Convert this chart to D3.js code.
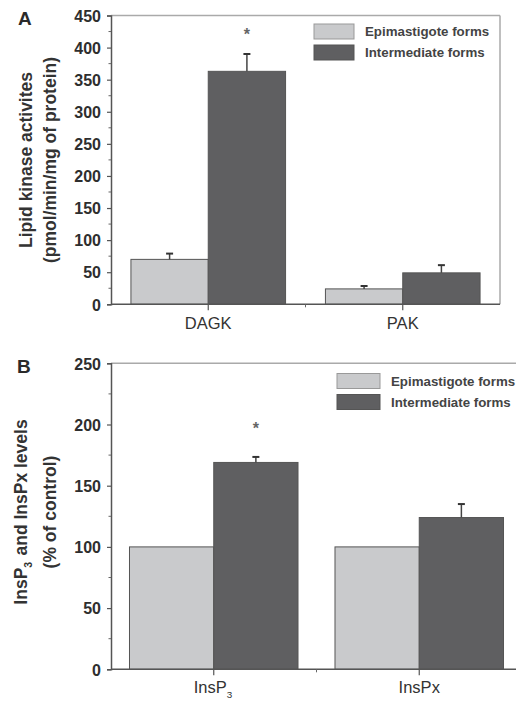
<!DOCTYPE html>
<html lang="en">
<head>
<meta charset="utf-8">
<title>Lipid kinase activities and InsP levels</title>
<script src="https://d3js.org/d3.v7.min.js"></script>
<style>
  * { margin:0; padding:0; box-sizing:border-box; }
  body { background:#fff; font-family:'Liberation Sans', Arial, sans-serif; }
  svg { display:block; }
  .tick-label { font-size:16px; font-weight:bold; fill:#2e2e2e; }
  .cat-label { font-size:16.5px; fill:#333; }
  .axis-title { font-size:17.5px; font-weight:bold; fill:#333; }
  .legend-text { font-size:13.3px; font-weight:bold; fill:#444; }
  .panel-label { font-size:19px; font-weight:bold; fill:#2a2a2a; }
</style>
</head>
<body>
<svg id="chart" width="516" height="703"></svg>
<script>
// ─── Data ───
const seriesNames = ['Epimastigote forms', 'Intermediate forms'];
const seriesColors = ['#c9cacc', '#5f5f61'];

// Panel A: lipid kinase activities
const catsA = ['DAGK', 'PAK'];
const epiA = [70, 24];
const epiErrA = [9, 4.5];
const interA = [363, 49];
const interErrA = [27, 12];
const ticksA = [0, 50, 100, 150, 200, 250, 300, 350, 400, 450];
const starA = { cat: 'DAGK', value: 424 };

// Panel B: InsP3 and InsPx levels
const catsB = ['InsP3', 'InsPx'];
const epiB = [100, 100];
const epiErrB = [0, 0];
const interB = [169, 124];
const interErrB = [4.5, 11];
const ticksB = [0, 50, 100, 150, 200, 250];
const starB = { cat: 'InsP3', value: 199 };

const svg = d3.select('#chart');

// label with "3" as subscript where needed
function subText(sel, txt, size) {
  const parts = txt.split('InsP3');
  parts.forEach((p, i) => {
    if (p) sel.append('tspan').text(p);
    if (i < parts.length - 1) {
      sel.append('tspan').text('InsP');
      sel.append('tspan').text('3').attr('font-size', size * 0.6).attr('dy', size * 0.3);
      sel.append('tspan').text('\u200a').attr('dy', -size * 0.3);
    }
  });
}

function drawPanel(o) {
  const g = svg.append('g');
  const x = d3.scaleBand().domain(o.cats).range([o.left, o.right]).padding(0);
  const groupW = x.bandwidth() * o.groupFrac;
  const xs = d3.scaleBand().domain([0, 1]).range([-groupW / 2, groupW / 2]);
  const y = d3.scaleLinear().domain([0, o.max]).range([o.bottom, o.top]);

  // frame (top + right)
  g.append('line').attr('x1', o.left).attr('x2', o.frameRight).attr('y1', o.top).attr('y2', o.top)
    .attr('stroke', '#aaa').attr('stroke-width', 1.5);
  g.append('line').attr('x1', o.frameRight).attr('x2', o.frameRight).attr('y1', o.top).attr('y2', o.bottom)
    .attr('stroke', '#aaa').attr('stroke-width', 1.5);

  // bars
  const rows = o.cats.map((c, i) => [
    { cat: c, s: 0, v: o.epi[i], e: o.epiErr[i] },
    { cat: c, s: 1, v: o.inter[i], e: o.interErr[i] }
  ]).flat();

  g.selectAll('rect.bar').data(rows).join('rect')
    .attr('class', 'bar')
    .attr('x', d => x(d.cat) + x.bandwidth() / 2 + xs(d.s))
    .attr('width', xs.bandwidth())
    .attr('y', d => y(d.v))
    .attr('height', d => y(0) - y(d.v))
    .attr('fill', d => seriesColors[d.s])
    .attr('stroke', '#555').attr('stroke-width', 1);

  // error bars (upper only)
  const errs = rows.filter(d => d.e > 0);
  const cx = d => x(d.cat) + x.bandwidth() / 2 + xs(d.s) + xs.bandwidth() / 2;
  g.selectAll('line.err').data(errs).join('line')
    .attr('x1', cx).attr('x2', cx)
    .attr('y1', d => y(d.v)).attr('y2', d => y(d.v + d.e))
    .attr('stroke', '#444').attr('stroke-width', 1.5);
  g.selectAll('line.cap').data(errs).join('line')
    .attr('x1', d => cx(d) - 3.5).attr('x2', d => cx(d) + 3.5)
    .attr('y1', d => y(d.v + d.e)).attr('y2', d => y(d.v + d.e))
    .attr('stroke', '#333').attr('stroke-width', 2);

  // asterisk
  const sc = x(o.star.cat) + x.bandwidth() / 2 + xs(1) + xs.bandwidth() / 2;
  g.append('text').attr('x', sc).attr('y', y(o.star.value) + 8)
    .attr('text-anchor', 'middle').attr('font-size', 16).attr('font-weight', 'bold')
    .attr('fill', '#666').text('*');

  // y axis
  const yAxis = d3.axisLeft(y).tickValues(o.ticks).tickSize(4).tickFormat(d3.format('d'));
  const ya = g.append('g').attr('transform', `translate(${o.left},0)`).call(yAxis);
  ya.select('.domain').attr('stroke', '#555').attr('stroke-width', 1.5);
  ya.selectAll('.tick line').attr('stroke', '#555').attr('stroke-width', 1.2);
  ya.selectAll('.tick text').attr('class', 'tick-label').attr('x', -10).attr('dy', '0.36em');
  const minor = o.ticks.slice(0, -1).map((t, i) => (t + o.ticks[i + 1]) / 2);
  g.selectAll('line.minor').data(minor).join('line')
    .attr('x1', o.left - 2.5).attr('x2', o.left).attr('y1', d => y(d)).attr('y2', d => y(d))
    .attr('stroke', '#666').attr('stroke-width', 1);

  // x axis
  g.append('line').attr('x1', o.left).attr('x2', o.frameRight).attr('y1', o.bottom).attr('y2', o.bottom)
    .attr('stroke', '#555').attr('stroke-width', 1.5);
  const xa = g.append('g').attr('transform', `translate(0,${o.bottom})`)
    .call(d3.axisBottom(x).tickSize(6).tickSizeOuter(0));
  xa.select('.domain').remove();
  xa.selectAll('.tick line').attr('stroke', '#555').attr('stroke-width', 1.2);
  xa.selectAll('.tick text').remove();
  g.append('line').attr('x1', o.left + x.bandwidth()).attr('x2', o.left + x.bandwidth())
    .attr('y1', o.bottom).attr('y2', o.bottom + 3).attr('stroke', '#666');
  o.cats.forEach(c => {
    const t = g.append('text').attr('class', 'cat-label')
      .attr('x', x(c) + x.bandwidth() / 2).attr('y', o.bottom + o.catDy).attr('text-anchor', 'middle');
    subText(t, c, 16.5);
  });

  // y axis title
  o.title.forEach((line, i) => {
    const t = g.append('text').attr('class', 'axis-title').attr('text-anchor', 'middle')
      .attr('transform', `translate(${o.titleX[i]},${o.titleY}) rotate(-90)`);
    subText(t, line, 17.5);
  });

  // panel letter
  g.append('text').attr('class', 'panel-label').attr('x', o.letterX).attr('y', o.letterY).text(o.letter);

  // legend
  seriesNames.forEach((s, i) => {
    const ly = o.legY + i * o.legStep;
    g.append('rect').attr('x', o.legX).attr('y', ly).attr('width', o.legW).attr('height', 15)
      .attr('fill', seriesColors[i]).attr('stroke', i ? '#555' : '#999').attr('stroke-width', 1);
    g.append('text').attr('class', 'legend-text').attr('x', o.legX + o.legW + 11)
      .attr('y', ly + 12).text(s);
  });
}

drawPanel({
  cats: catsA, epi: epiA, epiErr: epiErrA, inter: interA, interErr: interErrA,
  ticks: ticksA, max: 450, star: starA,
  left: 111, right: 500, frameRight: 500, top: 15.5, bottom: 304.3, groupFrac: 0.795,
  catDy: 25, title: ['Lipid kinase activites', '(pmol/min/mg of protein)'],
  titleX: [32, 56], titleY: 160, letter: 'A', letterX: 18, letterY: 25,
  legX: 314, legY: 24, legStep: 21, legW: 40
});

drawPanel({
  cats: catsB, epi: epiB, epiErr: epiErrB, inter: interB, interErr: interErrB,
  ticks: ticksB, max: 250, star: starB,
  left: 111, right: 522, frameRight: 522, top: 363.3, bottom: 669.3, groupFrac: 0.82,
  catDy: 24, title: ['InsP3 and InsPx levels', '(% of control)'],
  titleX: [27, 56], titleY: 512, letter: 'B', letterX: 17, letterY: 373,
  legX: 337, legY: 373.5, legStep: 21, legW: 43
});
</script>
</body>
</html>
